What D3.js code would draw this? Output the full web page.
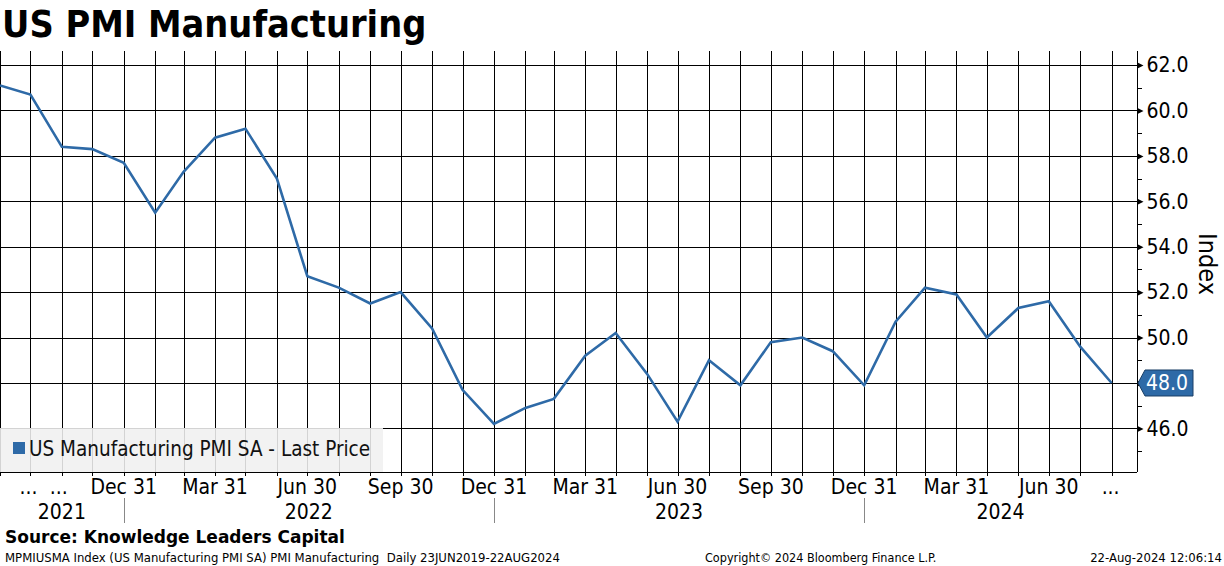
<!DOCTYPE html>
<html><head><meta charset="utf-8">
<script src="https://cdn.jsdelivr.net/npm/d3@7"></script>
<style>
body{margin:0;background:#fff}
svg{display:block}
text{font-family:"DejaVu Sans Condensed","DejaVu Sans",sans-serif;font-stretch:condensed}
</style>
</head><body>
<svg id="c" width="1224" height="566"></svg>
<script>
// ---- data ----
const dates = ["2021-08-31","2021-09-30","2021-10-31","2021-11-30","2021-12-31",
  "2022-01-31","2022-02-28","2022-03-31","2022-04-30","2022-05-31","2022-06-30",
  "2022-07-31","2022-08-31","2022-09-30","2022-10-31","2022-11-30","2022-12-31",
  "2023-01-31","2023-02-28","2023-03-31","2023-04-30","2023-05-31","2023-06-30",
  "2023-07-31","2023-08-31","2023-09-30","2023-10-31","2023-11-30","2023-12-31",
  "2024-01-31","2024-02-29","2024-03-31","2024-04-30","2024-05-31","2024-06-30",
  "2024-07-31","2024-08-31"];
const values = [61.1,60.7,58.4,58.3,57.7,55.5,57.3,58.8,59.2,57.0,52.7,52.2,51.5,52.0,50.4,47.7,46.2,
  46.9,47.3,49.2,50.2,48.4,46.3,49.0,47.9,49.8,50.0,49.4,47.9,50.7,52.2,51.9,50.0,51.3,51.6,49.6,48.0];
const xTickDates = ["2021-09-28","2021-10-28","2021-12-31","2022-03-31","2022-06-30","2022-09-30",
  "2022-12-31","2023-03-31","2023-06-30","2023-09-30","2023-12-31","2024-03-31","2024-06-30","2024-08-30"];
const xTickLabels = ["...","...","Dec 31","Mar 31","Jun 30","Sep 30","Dec 31","Mar 31","Jun 30",
  "Sep 30","Dec 31","Mar 31","Jun 30","..."];
const yearLabels = ["2021","2022","2023","2024"];
const yearBounds = ["2021-08-31","2021-12-31","2022-12-31","2023-12-31","2024-09-25"];
const yTicks = [46,48,50,52,54,56,58,60,62];
const yMinorTicks = [45,47,49,51,53,55,57,59,61];
const title = "US PMI Manufacturing";
const seriesName = "US Manufacturing PMI SA - Last Price";
const axisTitle = "Index";
const sourceText = "Source: Knowledge Leaders Capital";
const footLeft = "MPMIUSMA Index (US Manufacturing PMI SA) PMI Manufacturing  Daily 23JUN2019-22AUG2024";
const footMid = "Copyright\u00A9 2024 Bloomberg Finance L.P.";
const footRight = "22-Aug-2024 12:06:14";

// ---- setup ----
const parse = d3.timeParse("%Y-%m-%d");
const svg = d3.select("#c");
const L = 0, R = 1137, T = 51, B = 472;
const blue = "#2e6aa7";

const x = d3.scaleTime().domain([parse("2021-08-31"), parse("2024-09-25")]).range([L, R]);
const y = d3.scaleLinear().domain([44.08, 62.62]).range([B, T]);

// title
svg.append("text").attr("x", 2).attr("y", 37).attr("font-size", 37.5).attr("font-weight", "bold")
  .attr("fill", "#000").text(title);

// vertical grid (month ends)
const gridDates = dates.map(parse);
svg.append("g").selectAll("line").data(gridDates).join("line")
  .attr("x1", d => Math.round(x(d)) + 0.5).attr("x2", d => Math.round(x(d)) + 0.5)
  .attr("y1", T).attr("y2", B).attr("stroke", "#000").attr("stroke-width", 1);

// horizontal grid
svg.append("g").selectAll("line").data(yTicks).join("line")
  .attr("x1", L).attr("x2", R)
  .attr("y1", d => Math.round(y(d)) + 0.5).attr("y2", d => Math.round(y(d)) + 0.5)
  .attr("stroke", "#000").attr("stroke-width", 1);

// series line
const line = d3.line().x((d, i) => x(parse(dates[i]))).y(d => y(d));
svg.append("path").datum(values).attr("d", line).attr("fill", "none")
  .attr("stroke", blue).attr("stroke-width", 2.6).attr("stroke-linejoin", "miter");

// legend box
svg.append("rect").attr("x", 0).attr("y", 428).attr("width", 383).attr("height", B - 428)
  .attr("fill", "#f0f0f0").attr("fill-opacity", 0.88);
svg.append("rect").attr("x", 13).attr("y", 442).attr("width", 12).attr("height", 12).attr("fill", blue);
svg.append("text").attr("x", 29).attr("y", 456).attr("font-size", 20.5).attr("fill", "#111").text(seriesName);

// right axis
const yAxis = d3.axisRight(y).tickValues(yTicks).tickSize(0).tickFormat(d3.format(".1f"));
const gy = svg.append("g").attr("transform", `translate(${R + 0.5},0)`).call(yAxis);
gy.select(".domain").attr("d", `M0,${T}V${B}`).attr("stroke", "#000");
gy.selectAll("text").attr("x", 9).attr("font-size", 21).attr("fill", "#000")
  .attr("font-family", '"DejaVu Sans Condensed","DejaVu Sans",sans-serif');
gy.selectAll(".tick").append("path").attr("d", "M0,-3L6,0L0,3Z").attr("fill", "#000");
svg.append("g").selectAll("line").data(yMinorTicks).join("line")
  .attr("x1", R).attr("x2", R + 5)
  .attr("y1", d => Math.round(y(d)) + 0.5).attr("y2", d => Math.round(y(d)) + 0.5)
  .attr("stroke", "#000");

// axis title
svg.append("text").attr("transform", `translate(1199,${264}) rotate(90)`)
  .attr("text-anchor", "middle").attr("font-size", 25).attr("fill", "#000").text(axisTitle);

// last value marker
const lastV = values[values.length - 1];
const ly = y(lastV);
svg.append("path")
  .attr("d", `M${R + 1},${ly}L${R + 8},${ly - 13}H${R + 56}V${ly + 13}H${R + 8}Z`)
  .attr("fill", blue).attr("stroke", "#1a3f66").attr("stroke-width", 1);
svg.append("text").attr("x", R + 9).attr("y", ly + 7.5).attr("font-size", 21).attr("fill", "#fff")
  .text(d3.format(".1f")(lastV));

// bottom axis
svg.append("line").attr("x1", L).attr("x2", R).attr("y1", B + 0.5).attr("y2", B + 0.5).attr("stroke", "#000");
svg.append("g").selectAll("line").data(gridDates).join("line")
  .attr("x1", d => Math.round(x(d)) + 0.5).attr("x2", d => Math.round(x(d)) + 0.5)
  .attr("y1", B).attr("y2", B + 4).attr("stroke", "#000");
svg.append("g").selectAll("text").data(xTickDates).join("text")
  .attr("x", d => x(parse(d))).attr("y", 494).attr("text-anchor", "middle")
  .attr("font-size", 21).attr("fill", "#000").text((d, i) => xTickLabels[i]);

// year labels and separators
const yb = yearBounds.map(parse);
svg.append("g").selectAll("text").data(yearLabels).join("text")
  .attr("x", (d, i) => (x(yb[i]) + x(yb[i + 1])) / 2).attr("y", 519)
  .attr("text-anchor", "middle").attr("font-size", 21).attr("fill", "#000").text(d => d);
svg.append("g").selectAll("line").data(yb.slice(1, 4)).join("line")
  .attr("x1", d => Math.round(x(d)) + 0.5).attr("x2", d => Math.round(x(d)) + 0.5)
  .attr("y1", 498).attr("y2", 523).attr("stroke", "#888");

// footer
svg.append("text").attr("x", 5).attr("y", 543).attr("font-size", 17).attr("font-weight", "bold")
  .style("font-family", '"DejaVu Sans",sans-serif').style("font-stretch", "normal")
  .attr("fill", "#000").text(sourceText);
svg.append("text").attr("x", 5).attr("y", 561.5).attr("font-size", 13).attr("fill", "#000")
  .style("white-space", "pre").text(footLeft);
svg.append("text").attr("x", 705).attr("y", 561.5).attr("font-size", 12.5).attr("fill", "#000").text(footMid);
svg.append("text").attr("x", 1222).attr("y", 561.5).attr("font-size", 13).attr("text-anchor", "end")
  .attr("fill", "#000").text(footRight);
</script>
</body></html>
